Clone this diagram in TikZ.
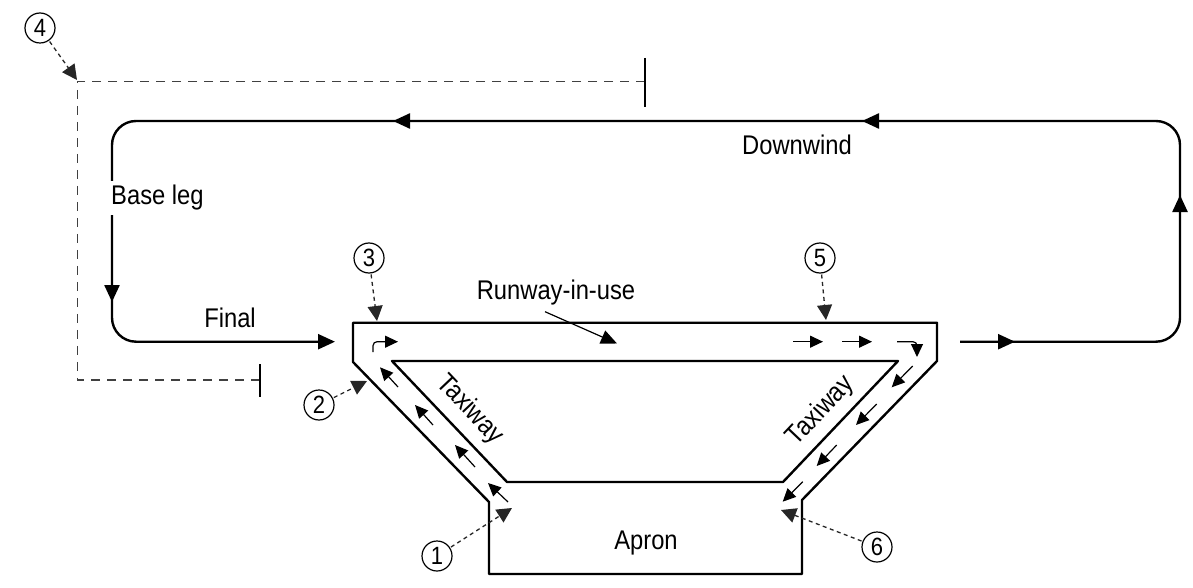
\documentclass[tikz,border=0pt]{standalone}
\usepackage{fontspec}
\setmainfont[FakeStretch=0.88]{Liberation Sans}
\usetikzlibrary{arrows.meta}
\begin{document}
\begin{tikzpicture}[x=1pt,y=-1pt,
  lbl/.style={font=\fontsize{27}{30}\selectfont, inner sep=1pt},
  num/.style={circle,draw,line width=1.2pt,minimum size=30pt,inner sep=0pt,font=\fontsize{25}{26}\selectfont},
  main/.style={line width=2.4pt, line join=round},
  bigtip/.style={-{Triangle[length=17pt,width=15pt]}},
  smalltip/.style={line width=1.2pt,-{Triangle[length=13pt,width=12pt]}},
  refline/.style={dash pattern=on 9pt off 7pt, line width=1.5pt, draw=black!75},
  tick/.style={line width=1.5pt},
  lead/.style={dash pattern=on 4pt off 3.5pt, line width=1.3pt, draw=black!85, -{Triangle[length=15pt,width=15pt]}, shorten <=1pt}
]
\useasboundingbox (0,0) rectangle (1193,588);

% traffic circuit
\coordinate (cs) at (960,341.7);
\coordinate (fe) at (335,341.7);
\draw[main, bigtip, rounded corners=24pt] (cs) -- (1180,341.7) -- (1180,121) -- (112,121) -- (112,341.7) -- (fe);
\draw[main,bigtip] (990,341.7) -- (1015,341.7);
\draw[main,bigtip] (1180,220) -- (1180,195);
\draw[main,bigtip] (890,121) -- (862,121);
\draw[main,bigtip] (420,121) -- (393,121);
\draw[main,bigtip] (112,280) -- (112,302);

\node[lbl] (down) at (797,145) {Downwind};
\node[lbl, fill=white, anchor=west, inner xsep=3pt, inner ysep=4pt] (base) at (108,198) {Base leg};
\node[lbl] (final) at (230,318) {Final};

% runway, taxiways, apron
\draw[main] (489,574) -- (489,502) -- (353,362) -- (353,322.7) -- (937,322.7) -- (937,361) -- (802,500) -- (802,574) -- cycle;
\draw[main] (392,361) -- (898,361) -- (783,482) -- (507,482) -- cycle;

\node[lbl] (apron) at (646,543) {Apron};
\node[lbl, rotate=-46.5] (twl) at (470,410) {Taxiway};
\node[lbl, rotate=46.5] (twr) at (821,411) {Taxiway};
\node[lbl] (rwy) at (556,293) {Runway-in-use};
\coordinate (rwyt) at (617,343.5);
\draw[line width=1.2pt, -{Triangle[length=16pt,width=14pt]}] (545,311.7) -- (rwyt);

% taxi flow arrows
\draw[smalltip, rounded corners=4pt] (373,352) -- (373,341.7) -- (398,341.7);
\draw[smalltip] (793,341.7) -- (823,341.7);
\draw[smalltip] (842,341.7) -- (872,341.7);
\draw[smalltip, rounded corners=4pt] (897,341.7) -- (917,341.7) -- (917,357);
\draw[smalltip] (398,387) -- (380,367.3);
\draw[smalltip] (433,425) -- (415,405);
\draw[smalltip] (475,467) -- (455,445);
\draw[smalltip] (508,502) -- (488,483);
\draw[smalltip] (912.7,366) -- (891.7,387.3);
\draw[smalltip] (876.7,404) -- (856,425);
\draw[smalltip] (836.7,445) -- (816.7,466);
\draw[smalltip] (802.7,481.7) -- (782.7,501.7);

% reference dashed lines
\coordinate (ta) at (645,81.5);
\coordinate (tb) at (260,380);
\draw[refline] (ta) -- (77.3,81.5) -- (77.3,380) -- (tb);
\draw[tick] (645,58) -- (645,107);
\draw[tick] (260,364) -- (260,397);

% numbered callouts
\node[num] (n1) at (437,556) {1};
\node[num] (n2) at (319,405) {2};
\node[num] (n3) at (369,258) {3};
\node[num] (n4) at (40,28) {4};
\node[num] (n5) at (820,258) {5};
\node[num] (n6) at (877,547) {6};
\coordinate (t1) at (512,508);
\coordinate (t2) at (367,381);
\coordinate (t3) at (377,321);
\coordinate (t4) at (77,80);
\coordinate (t5) at (826,320);
\coordinate (t6) at (781,510);
\draw[lead] (n1) -- (t1);
\draw[lead] (n2) -- (t2);
\draw[lead] (n3) -- (t3);
\draw[lead] (n4) -- (t4);
\draw[lead] (n5) -- (t5);
\draw[lead] (n6) -- (t6);
\end{tikzpicture}
\end{document}
